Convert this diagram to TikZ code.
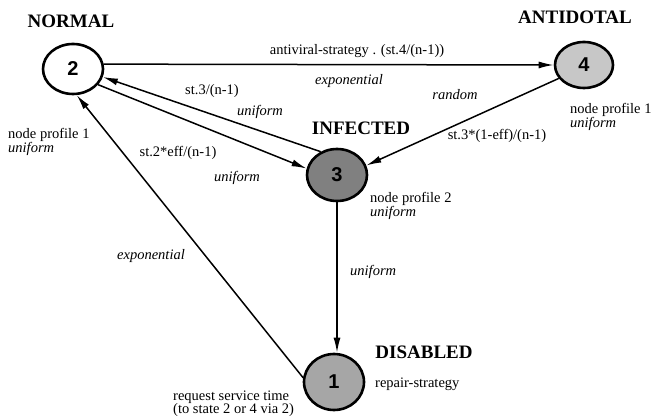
\documentclass[tikz,border=0pt]{standalone}
\usepackage{fontspec}
\setmainfont{Liberation Serif}
\newfontfamily\digitfont{Liberation Sans}
\usetikzlibrary{arrows.meta,shapes.geometric}
\begin{document}
\begin{tikzpicture}[x=1pt,y=-1pt,
  state/.style={ellipse,draw=black,line width=2.6pt,inner sep=0pt,
    font=\digitfont\bfseries\fontsize{20}{20}\selectfont},
  head/.style={font=\rmfamily\bfseries\fontsize{19}{19}\selectfont},
  lbl/.style={font=\rmfamily\fontsize{14.5}{15}\selectfont,inner sep=0pt},
  ilbl/.style={font=\rmfamily\itshape\fontsize{14.5}{15}\selectfont,inner sep=0pt},
  arr/.style={line width=1.5pt,-{Latex[length=15pt,width=7pt]}},
  ]
\useasboundingbox (0,0) rectangle (652,419);
% states
\node[state,fill=white,minimum width=60pt,minimum height=50pt] (n2) at (73,69) {2};
\node[state,fill=black!22,minimum width=58pt,minimum height=46pt] (n4) at (584,65) {4};
\node[state,fill=black!50,minimum width=60pt,minimum height=52pt] (n3) at (337,175) {3};
\node[state,fill=black!35,minimum width=60pt,minimum height=56pt] (n1) at (334,382) {1};
% headings
\node[head] (hnormal) at (71,21) {NORMAL};
\node[head] (hanti) at (575,17) {ANTIDOTAL};
\node[head] (hinf) at (361,128) {INFECTED};
\node[head] (hdis) at (424,352) {DISABLED};
% connectors
\draw[arr] (n2.9) -- (n4.180);
\draw[arr] (n3.125) -- (n2.-15);
\draw[arr] (n2.-32) -- (n3.168);
\draw[arr] (n4.208) -- (n3.18);
\draw[arr] (n1.172) -- (n2.-82);
\draw[arr] (n3.south) -- (n3.south |- n1.north);
% labels
\node[lbl] (l1) at (357,51) {antiviral-strategy . (st.4/(n-1))};
\node[ilbl] (l2) at (349,81) {exponential};
\node[lbl] (l3) at (212,91) {st.3/(n-1)};
\node[ilbl] (l4) at (260,112) {uniform};
\node[lbl,anchor=west] (l5) at (8,135) {node profile 1};
\node[ilbl,anchor=west] (l6) at (8,149) {uniform};
\node[lbl] (l7) at (178,153) {st.2*eff/(n-1)};
\node[ilbl] (l8) at (237,178) {uniform};
\node[ilbl] (l9) at (455,95) {random};
\node[lbl,anchor=west] (l10) at (570,110) {node profile 1};
\node[ilbl,anchor=west] (l11) at (570,124) {uniform};
\node[lbl] (l12) at (497,136) {st.3*(1-eff)/(n-1)};
\node[lbl,anchor=west] (l13) at (370,199) {node profile 2};
\node[ilbl,anchor=west] (l14) at (370,213) {uniform};
\node[ilbl,anchor=west] (l15) at (350,272) {uniform};
\node[ilbl] (l16) at (151,256) {exponential};
\node[lbl,anchor=west] (l17) at (375,384) {repair-strategy};
\node[lbl,anchor=west] (l18) at (173,397) {request service time};
\node[lbl,anchor=west] (l19) at (173,410) {(to state 2 or 4 via 2)};
\end{tikzpicture}
\end{document}
